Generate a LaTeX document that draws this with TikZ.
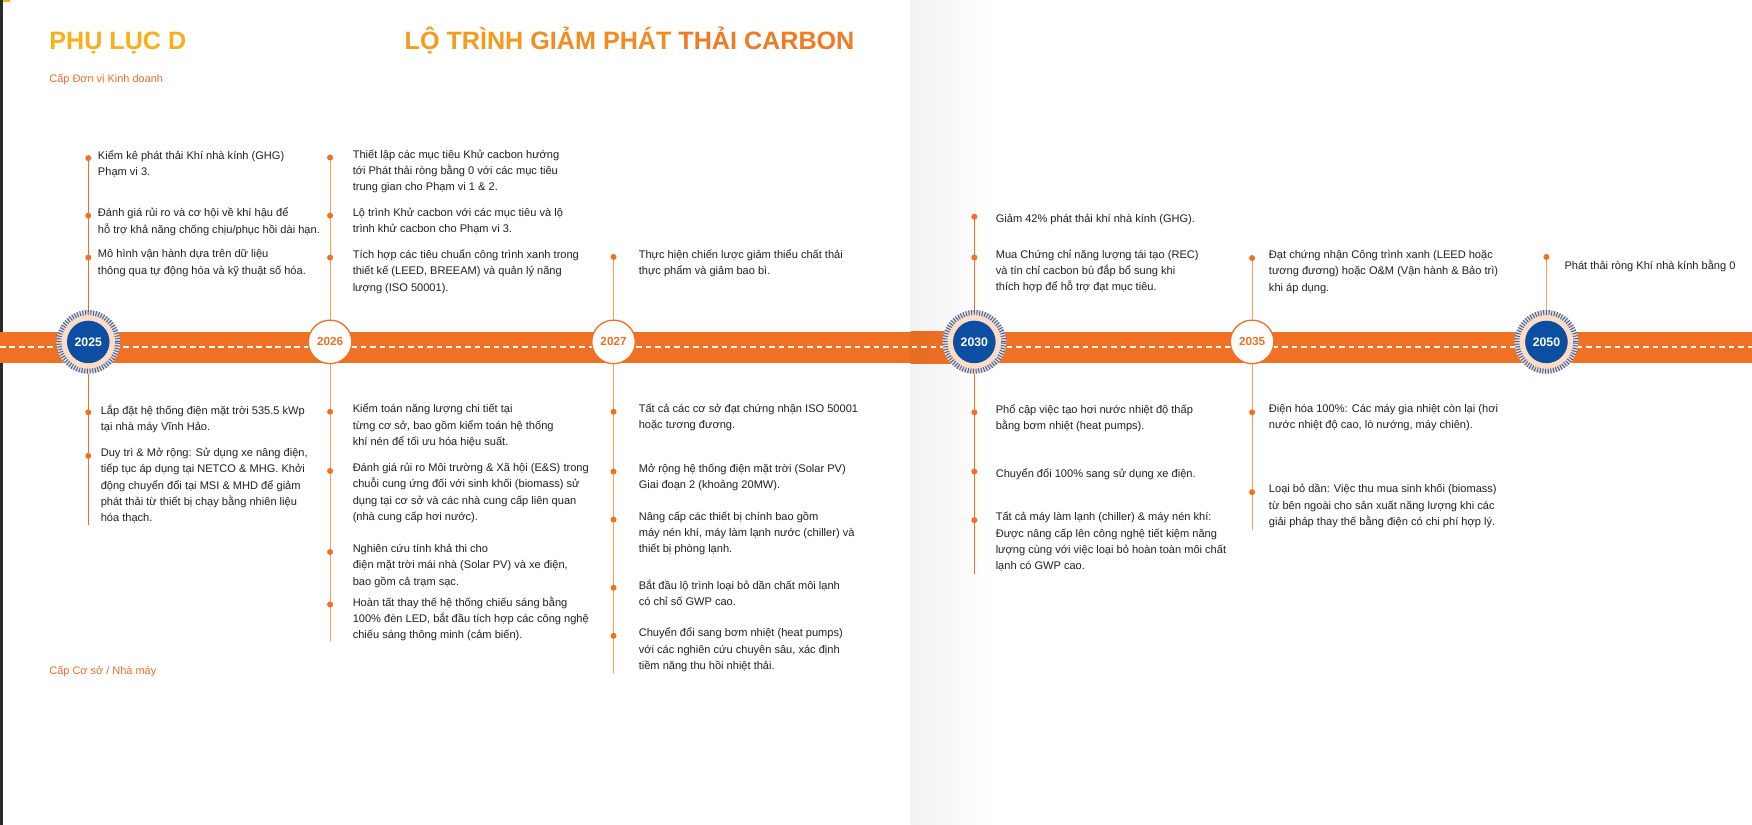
\documentclass[tikz,border=0pt]{standalone}
\usepackage{fontspec}
\setmainfont{Liberation Sans}
\usetikzlibrary{calc}

\definecolor{bar}{HTML}{F07124}
\definecolor{ink}{HTML}{1F1F2B}
\definecolor{navy}{HTML}{0B4EA2}
\definecolor{tick}{HTML}{2D64B1}
\definecolor{peach}{HTML}{FCDCC5}
\definecolor{lightstem}{HTML}{F4A064}
\definecolor{gold}{HTML}{F9AF1A}
\definecolor{ttlA}{HTML}{F39B1F}
\definecolor{ttlB}{HTML}{F18C21}
\definecolor{ttlC}{HTML}{EF7B23}
\definecolor{sub}{HTML}{F26C2B}
\definecolor{edge}{HTML}{2B2B2B}

\def\ybar{310.5}
\def\yc{306}

% one item: dot on the stem and its text
\newcommand\entry[5]{%
 \node[dot] (#1) at (#2,#3) {};
 \node[txt] (#1t) at (#4,#3-7.2) {#5};}

\begin{document}
\begin{tikzpicture}[x=1pt,y=-1pt,
 txt/.style={anchor=north west,inner sep=0pt,align=left,text=ink,
  font=\fontsize{9.9}{14.6}\selectfont,execute at begin node={\rule{0pt}{12pt}}},
 head/.style={anchor=base west,inner sep=0pt,font=\fontsize{22.5}{24}\selectfont\bfseries},
 level/.style={anchor=base west,inner sep=0pt,text=sub,font=\fontsize{9.8}{11}\selectfont},
 dot/.style={circle,fill=bar,inner sep=0pt,minimum size=5.4pt},
 stem/.style={draw=lightstem,line width=1pt},
 goalstem/.style={draw=bar,line width=1.3pt},
 yr/.style={circle,draw=bar,line width=1.2pt,fill=white,minimum size=39pt,inner sep=0pt,
  text=bar,font=\fontsize{10.5}{12}\selectfont\bfseries},
 goal/.style={circle,fill=navy,minimum size=38pt,inner sep=0pt,outer sep=9.5pt,
  text=white,font=\fontsize{11}{12}\selectfont\bfseries},
 ring/.style={draw=peach,line width=9.5pt},
 ticks/.style={draw=tick,line width=4.5pt,dash pattern=on 0.9pt off 1.5pt}]
 \useasboundingbox (0,0) rectangle (1568,738);
 \fill[white] (0,0) rectangle (1568,738);
 % Page gutter
 \shade[left color=black!5,right color=white] (815,0) rectangle (888,738);
 % Page edge
 \fill[edge] (0,0) rectangle (2.7,738);
 \fill[gold] (2.7,0) rectangle (9,2.2);
 % Headings
 \node[head,text=gold] (appx) at (44,44.5) {PHỤ LỤC D};
 \node[head] (title) at (362,44.5) {\textcolor{ttlA}{LỘ TRÌNH} \textcolor{ttlB}{GIẢM PHÁT} \textcolor{ttlC}{THẢI CARBON}};
 \node[level] (unit) at (44,74) {Cấp Đơn vị Kinh doanh};
 \node[level] (site) at (44,603.5) {Cấp Cơ sở / Nhà máy};
 % Timeline bar
 \fill[bar] (0,297) rectangle (1568,325);
 \shade[left color=bar!96!black,right color=bar] (815,297) rectangle (888,325);
 \draw[white,line width=1.2pt,dash pattern=on 5pt off 3.5pt] (0,\ybar) -- (1568,\ybar);
 % Rings behind the goal years
 \foreach \x in {79,872,1384} {
  \draw[ring] (\x,\yc) circle (23.75pt);
  \draw[ticks] (\x,\yc) circle (26.25pt);
 }
 % Years
 \node[goal] (y25) at (79,\yc) {2025};
 \node[yr] (y26) at (295.4,\yc) {2026};
 \node[yr] (y27) at (549.1,\yc) {2027};
 \node[goal] (y30) at (872,\yc) {2030};
 \node[yr] (y35) at (1120.6,\yc) {2035};
 \node[goal] (y50) at (1384,\yc) {2050};
 % Stem ends
 \coordinate (t25) at (79,141.5);
 \coordinate (b25) at (79,469.5);
 \coordinate (t26) at (295.4,141);
 \coordinate (b26) at (295.4,574.5);
 \coordinate (t27) at (549.1,230);
 \coordinate (b27) at (549.1,603);
 \coordinate (t30) at (872,194);
 \coordinate (b30) at (872,513.5);
 \coordinate (t35) at (1120.6,231);
 \coordinate (b35) at (1120.6,474.5);
 \coordinate (t50) at (1384,230);
 % Stems
 \draw[goalstem] (y25) -- (t25) (y25) -- (b25);
 \draw[stem] (y26) -- (t26) (y26) -- (b26);
 \draw[stem] (y27) -- (t27) (y27) -- (b27);
 \draw[goalstem] (y30) -- (t30) (y30) -- (b30);
 \draw[stem] (y35) -- (t35) (y35) -- (b35);
 \draw[stem] (y50) -- (t50);
 % 2025
 \entry{u25a}{79}{141.5}{87.5}{Kiểm kê phát thải Khí nhà kính (GHG)\\Phạm vi 3.}
 \entry{u25b}{79}{193}{87.5}{Đánh giá rủi ro và cơ hội về khí hậu để\\hỗ trợ khả năng chống chịu/phục hồi dài hạn.}
 \entry{u25c}{79}{230.5}{87.5}{Mô hình vận hành dựa trên dữ liệu\\thông qua tự động hóa và kỹ thuật số hóa.}
 \entry{l25a}{79}{369}{90}{Lắp đặt hệ thống điện mặt trời 535.5 kWp\\tại nhà máy Vĩnh Hảo.}
 \entry{l25b}{79}{408}{90}{Duy trì \& Mở rộng: Sử dụng xe nâng điện,\\tiếp tục áp dụng tại NETCO \& MHG. Khởi\\động chuyển đổi tại MSI \& MHD để giảm\\phát thải từ thiết bị chạy bằng nhiên liệu\\hóa thạch.}
 % 2026
 \entry{u26a}{295.4}{141}{315.5}{Thiết lập các mục tiêu Khử cacbon hướng\\tới Phát thải ròng bằng 0 với các mục tiêu\\trung gian cho Phạm vi 1 \& 2.}
 \entry{u26b}{295.4}{193}{315.5}{Lộ trình Khử cacbon với các mục tiêu và lộ\\trình khử cacbon cho Phạm vi 3.}
 \entry{u26c}{295.4}{230.5}{315.5}{Tích hợp các tiêu chuẩn công trình xanh trong\\thiết kế (LEED, BREEAM) và quản lý năng\\lượng (ISO 50001).}
 \entry{l26a}{295.4}{368.5}{315.5}{Kiểm toán năng lượng chi tiết tại\\từng cơ sở, bao gồm kiểm toán hệ thống\\khí nén để tối ưu hóa hiệu suất.}
 \entry{l26b}{295.4}{421.5}{315.5}{Đánh giá rủi ro Môi trường \& Xã hội (E\&S) trong\\chuỗi cung ứng đối với sinh khối (biomass) sử\\dụng tại cơ sở và các nhà cung cấp liên quan\\(nhà cung cấp hơi nước).}
 \entry{l26c}{295.4}{494}{315.5}{Nghiên cứu tính khả thi cho\\điện mặt trời mái nhà (Solar PV) và xe điện,\\bao gồm cả trạm sạc.}
 \entry{l26d}{295.4}{541}{315.5}{Hoàn tất thay thế hệ thống chiếu sáng bằng\\100\% đèn LED, bắt đầu tích hợp các công nghệ\\chiếu sáng thông minh (cảm biến).}
 % 2027
 \entry{u27a}{549.1}{230}{571.5}{Thực hiện chiến lược giảm thiểu chất thải\\thực phẩm và giảm bao bì.}
 \entry{l27a}{549.1}{368.5}{571.5}{Tất cả các cơ sở đạt chứng nhận ISO 50001\\hoặc tương đương.}
 \entry{l27b}{549.1}{422}{571.5}{Mở rộng hệ thống điện mặt trời (Solar PV)\\Giai đoạn 2 (khoảng 20MW).}
 \entry{l27c}{549.1}{465}{571.5}{Nâng cấp các thiết bị chính bao gồm\\máy nén khí, máy làm lạnh nước (chiller) và\\thiết bị phòng lạnh.}
 \entry{l27d}{549.1}{526}{571.5}{Bắt đầu lộ trình loại bỏ dần chất môi lạnh\\có chỉ số GWP cao.}
 \entry{l27e}{549.1}{569}{571.5}{Chuyển đổi sang bơm nhiệt (heat pumps)\\với các nghiên cứu chuyên sâu, xác định\\tiềm năng thu hồi nhiệt thải.}
 % 2030
 \entry{u30a}{872}{194}{891}{Giảm 42\% phát thải khí nhà kính (GHG).}
 \entry{u30b}{872}{230.5}{891}{Mua Chứng chỉ năng lượng tái tạo (REC)\\và tín chỉ cacbon bù đắp bổ sung khi\\thích hợp để hỗ trợ đạt mục tiêu.}
 \entry{l30a}{872}{369}{891}{Phổ cập việc tạo hơi nước nhiệt độ thấp\\bằng bơm nhiệt (heat pumps).}
 \entry{l30b}{872}{422}{891}{Chuyển đổi 100\% sang sử dụng xe điện.}
 \entry{l30c}{872}{465.5}{891}{Tất cả máy làm lạnh (chiller) \& máy nén khí:\\Được nâng cấp lên công nghệ tiết kiệm năng\\lượng cùng với việc loại bỏ hoàn toàn môi chất\\lạnh có GWP cao.}
 % 2035
 \entry{u35a}{1120.6}{231}{1135.5}{Đạt chứng nhận Công trình xanh (LEED hoặc\\tương đương) hoặc O\&M (Vận hành \& Bảo trì)\\khi áp dụng.}
 \entry{l35a}{1120.6}{369}{1135.5}{Điện hóa 100\%: Các máy gia nhiệt còn lại (hơi\\nước nhiệt độ cao, lò nướng, máy chiên).}
 \entry{l35b}{1120.6}{440.5}{1135.5}{Loại bỏ dần: Việc thu mua sinh khối (biomass)\\từ bên ngoài cho sản xuất năng lượng khi các\\giải pháp thay thế bằng điện có chi phí hợp lý.}
 % 2050
 \node[dot] (u50a) at (1384,230) {};
 \node[txt] (u50at) at (1400,228.6) {Phát thải ròng Khí nhà kính bằng 0};
\end{tikzpicture}
\end{document}
